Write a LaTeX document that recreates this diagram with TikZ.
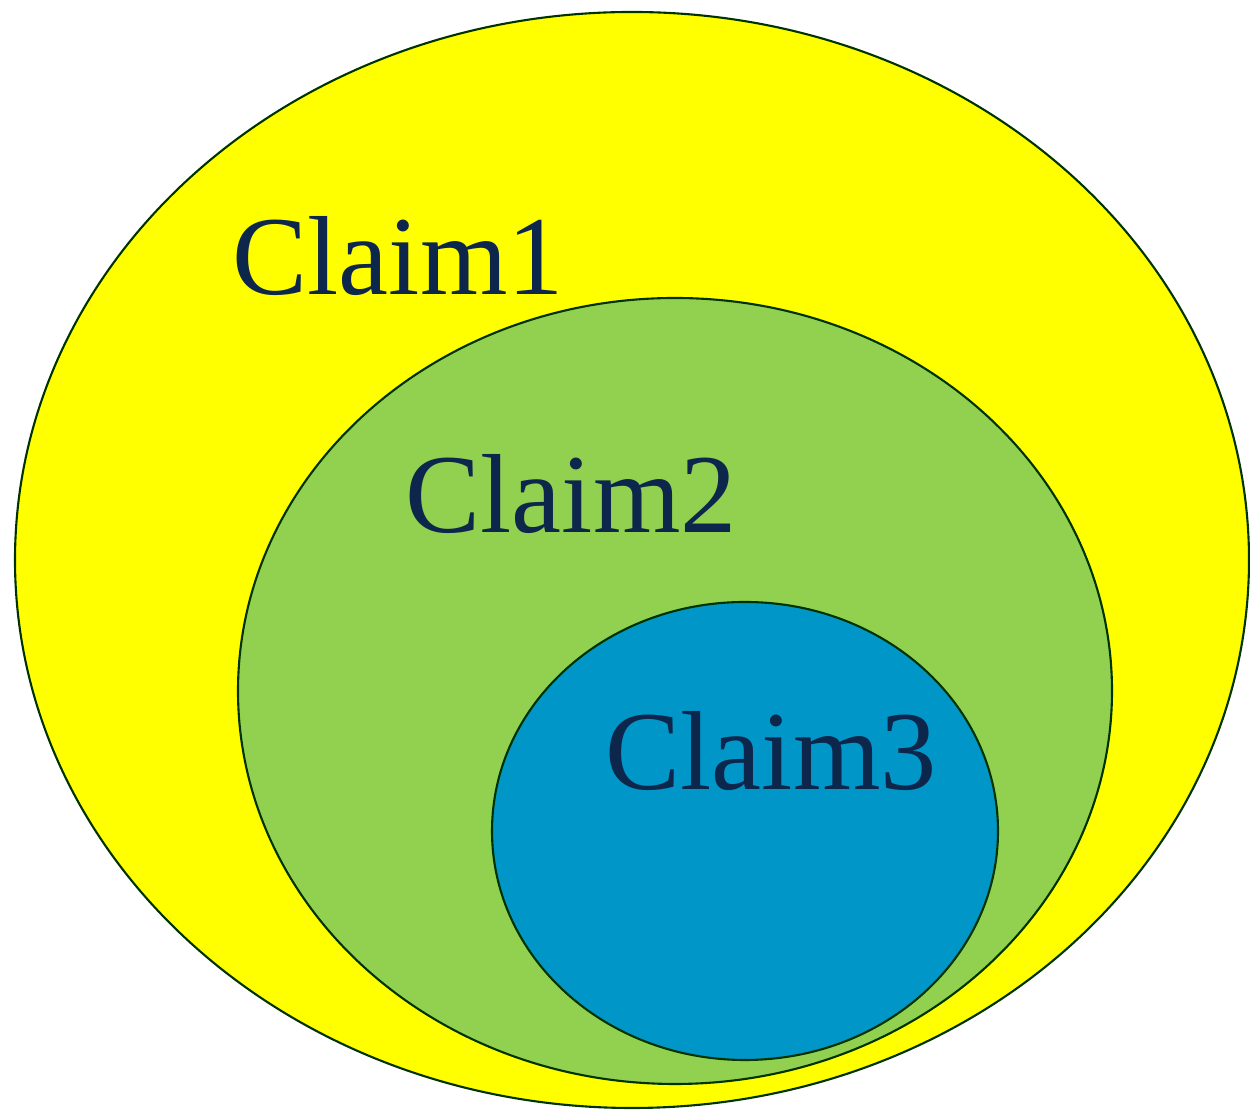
\documentclass[tikz,border=0pt]{standalone}
\usepackage{fontspec}
\setmainfont{Liberation Serif}
\usepackage{tikz}
\usetikzlibrary{shapes.geometric}
\usetikzlibrary{positioning}
\definecolor{claimyellow}{RGB}{255,255,0}
\definecolor{claimgreen}{RGB}{146,208,80}
\definecolor{claimblue}{RGB}{0,150,200}
\definecolor{claimtext}{RGB}{12,38,76}
\tikzset{set/.style={shape=ellipse, draw=black!80!green, line width=0.6pt, inner sep=0pt}}
\tikzset{label/.style={inner sep=0pt, anchor=base west, text=claimtext, font=\fontsize{32}{38}\selectfont}}

\begin{document}
\begin{tikzpicture}
        \useasboundingbox (0, 0) rectangle (12.5, 11.12);
        \node [style=set, fill=claimyellow, minimum width=12.34cm, minimum height=10.96cm] (0) at (6.32, 5.52) {};
        \node [style=set, fill=claimgreen, minimum width=8.74cm, minimum height=7.86cm] (1) at (6.75, 4.21) {};
        \node [style=set, fill=claimblue, minimum width=5.06cm, minimum height=4.58cm] (2) at (7.45, 2.81) {};
        \node [style=label] (3) at (2.32, 8.17) {Claim1};
        \node [style=label] (4) at (4.05, 5.79) {Claim2};
        \node [style=label] (5) at (6.05, 3.22) {Claim3};
    \end{tikzpicture}
\end{document}
